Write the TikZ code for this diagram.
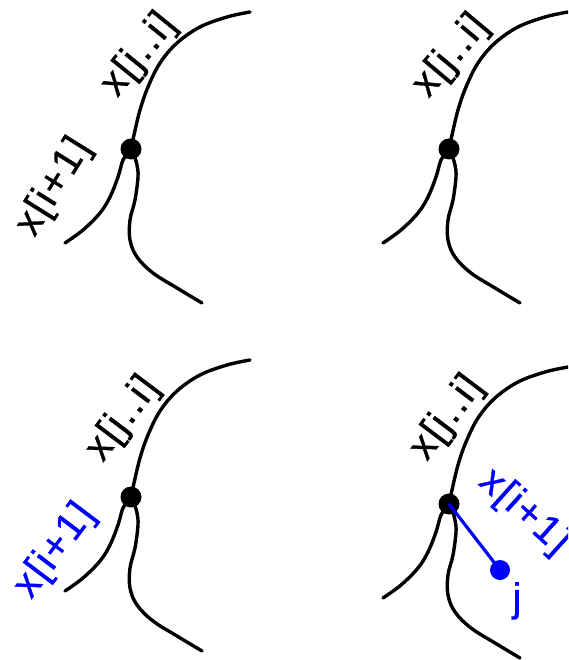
\documentclass[tikz,border=0pt]{standalone}
\usepackage{fontspec}
\setmainfont{Liberation Sans}[LetterSpace=5, FakeBold=0.8]
\definecolor{pureblue}{RGB}{0,0,255}
\tikzset{
  branch/.style={line width=3.4pt, line cap=round, line join=round},
  dotnode/.style={circle, fill=black, minimum size=21pt, inner sep=0pt},
  bluedot/.style={circle, fill=pureblue, minimum size=20pt, inner sep=0pt},
  lbl/.style={inner sep=0pt, font=\fontsize{40}{44}\selectfont},
}
\newcommand\drawbranches{%
  \draw[branch] plot[smooth, tension=0.6] coordinates {(131,149) (134,135) (140,110) (148,87) (160,63) (177,43) (200,27) (227,17) (250,12)};
  \draw[branch] plot[smooth, tension=0.6] coordinates {(129,153) (123,160) (118,177) (110,197) (100,213) (83,230) (65,243)};
  \draw[branch] plot[smooth, tension=0.6] coordinates {(134,155) (137,165) (138,177) (135,200) (130,220) (130,240) (137,257) (153,273) (177,288) (202,303)};
}
\begin{document}
\begin{tikzpicture}[x=1pt,y=-1pt]
\useasboundingbox (0,0) rectangle (568,660);
\clip (0,0) rectangle (568,660);
% panel 1
\begin{scope}
  \drawbranches
  \node[dotnode] (d1) at (131,149) {};
\end{scope}
\node[lbl, rotate=51] (a1) at (139,55) {x[j..i]};
\node[lbl, rotate=58] (b1) at (54,187) {x[i+1]};
% panel 2
\begin{scope}[shift={(318,0)}]
  \drawbranches
  \node[dotnode] (d2) at (131,149) {};
\end{scope}
\node[lbl, rotate=50] (a2) at (451,56) {x[j..i]};
% panel 3
\begin{scope}[shift={(0,348)}]
  \drawbranches
  \node[dotnode] (d3) at (131,149) {};
\end{scope}
\node[lbl, rotate=53] (a3) at (123,419) {x[j..i]};
\node[lbl, rotate=53, text=pureblue] (b3) at (55,551) {x[i+1]};
% panel 4
\begin{scope}[shift={(318,355)}]
  \drawbranches
  \node[dotnode] (d4) at (131,149) {};
\end{scope}
\node[lbl, rotate=53] (a4) at (447,418) {x[j..i]};
\node[bluedot] (bj) at (500,570) {};
\draw[line width=3.2pt, pureblue] (d4.center) -- (bj.center);
\node[lbl, text=pureblue, anchor=north] (jl) at (517,582) {j};
\node[lbl, rotate=-42, text=pureblue] (b4) at (524,512) {x[i+1]};
\end{tikzpicture}
\end{document}
